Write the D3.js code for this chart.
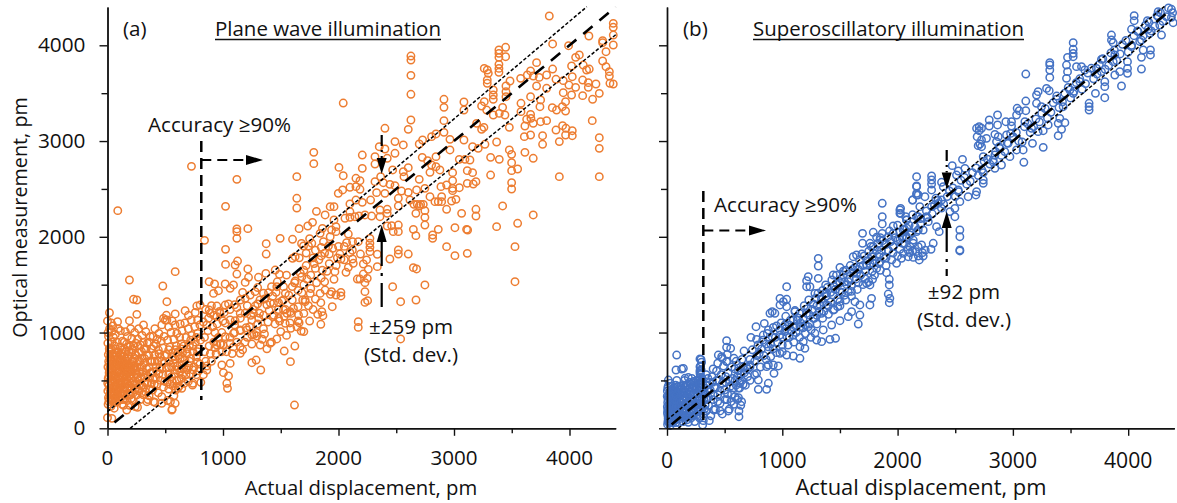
<!DOCTYPE html>
<html>
<head>
<meta charset="utf-8">
<style>
  html, body { margin: 0; padding: 0; background: #fff; }
  svg { display: block; }
  text { font-family: "Open Sans", "Noto Sans", sans-serif; fill: #111; }
</style>
<script src="https://cdnjs.cloudflare.com/ajax/libs/d3/7.8.5/d3.min.js"></script>
</head>
<body>
<svg id="chart" width="1177" height="503"></svg>
<script>
var tickMajor = [0, 1000, 2000, 3000, 4000];
var tickMinor = [500, 1500, 2500, 3500];
var axisMax = 4400;

// (a) plane wave, actual vs optical in pm
var planeUpper = [[3825,4306],[4379,4229],[4379,4188],[4379,4107],[4287,4048],[4379,4003],[3854,4014],[3992,3996],[4168,4097],[4287,4027],
  [3447,3979],[3389,3951],[3389,3916],[3447,3881],[3389,3874],[4316,3933],[4085,3899],[4053,3874],[2627,3888],[2627,3846],[2627,3686],[2627,3488],
  [2041,3397],[4287,3836],[3715,3819],[3389,3801],[3389,3759],[3389,3718],[3262,3759],[3288,3742],[3297,3707],[4316,3777],[4345,3725],[4345,3679],
  [4350,3603],[4379,3596],[4119,3794],[4148,3742],[4171,3752],[4018,3784],[3854,3752],[3663,3732],[3635,3690],[3577,3655],[3686,3679],[3738,3665],
  [3802,3690],[3883,3645],[3946,3631],[4024,3672],[4114,3637],[4163,3610],[4229,3596],[3485,3627],[3288,3638],[3288,3603],[3450,3575],[3715,3575],
  [3802,3551],[3995,3585],[4053,3561],[4163,3561],[3946,3505],[4018,3481],[4114,3474],[4258,3498],[4200,3436],[3340,3533],[3340,3481],[3340,3436],
  [3450,3516],[3450,3463],[3663,3463],[3750,3429],[3966,3411],[3580,3394],[2913,3436],[2913,3352],[3086,3408],[3086,3324],[3262,3411],[3239,3366],
  [3283,3324],[3421,3352],[3744,3359],[3851,3349],[3888,3324],[3938,3359],[3966,3314],[3340,3272],[3392,3289],[3441,3272],[3580,3307],[3663,3279],
  [3629,3227],[3666,3237],[3614,3157],[3686,3185],[3750,3202],[3802,3213],[4197,3213],[2913,3213],[2627,3220],[2604,3122],[2402,3133],[3196,3185],
  [3259,3143],[3239,3122],[3479,3143],[3883,3115],[3940,3161],[3969,3133],[4024,3108],[3966,3063],[4024,3056],[2913,3091],[2844,3074],[2806,3046]];
var planeMiddle = [[3086,3011],[2965,3018],[2728,3011],[2699,2969],[2489,2994],[2561,2959],[2353,2941],[2402,2917],[3609,3046],[3663,3063],[3767,3056],
  [3767,2966],[3912,2994],[4258,3035],[4258,2924],[3161,2941],[3268,2966],[3369,2990],[2965,2907],[3210,2924],[3479,2907],[3499,2861],[3614,2882],
  [2206,2854],[2316,2837],[2489,2872],[2422,2820],[2316,2760],[2725,2830],[2772,2795],[2844,2837],[3046,2809],[3095,2809],[3138,2802],[3317,2830],
  [3392,2809],[3686,2820],[3499,2774],[2004,2725],[2206,2715],[2604,2722],[2469,2698],[2806,2750],[2844,2732],[2878,2698],[3499,2691],[3551,2708],
  [2041,2638],[2561,2680],[2365,2628],[2567,2628],[2699,2600],[2792,2673],[2988,2670],[3115,2691],[3161,2670],[3317,2645],[3912,2628],[4258,2628],
  [2151,2611],[2186,2586],[2316,2576],[2388,2565],[2445,2548],[2489,2534],[2988,2586],[3190,2576],[3115,2558],[3167,2551],[3499,2565],[3499,2499],
  [2099,2517],[2151,2524],[2186,2496],[2036,2489],[1998,2454],[2330,2461],[2402,2454],[2546,2478],[2604,2464],[2676,2489],[2748,2506],[2887,2524],
  [2936,2541],[2988,2506],[3046,2513],[2988,2482],[2893,2419],[2518,2402],[2278,2384],[2151,2384],[2099,2343],[2206,2360],[1961,2315],[2518,2322],
  [2619,2384],[2792,2419],[2653,2339],[2682,2339],[2711,2339],[2734,2339],[2699,2322],[2835,2367],[2864,2367],[2893,2367],[2979,2374],[3017,2391],
  [2936,2287],[2748,2273],[2670,2245],[2748,2203],[3066,2245],[3190,2287],[3190,2217],[3421,2322],[3686,2228],[3551,2141],[3369,2106],[3008,2095],
  [3109,2078],[3118,2071],[2864,2078],[2748,2123],[2648,2078],[2670,2012],[2815,2019],[2815,1984],[2518,2123],[2518,2054],[2460,2116],[2422,2113],
  [2474,2054],[2518,1862],[2936,1897],[3528,1897],[2272,1984],[2272,1932],[2272,1890],[2422,2287],[2422,2245],[2359,2280],[2359,2210],[2287,2217],
  [2229,2228],[2177,2217],[2142,2210],[2099,2263],[2099,2203],[2056,2193],[1961,2176],[1978,2106],[1940,2071],[1978,2054],[2085,2029],[2070,1939],
  [2122,1949],[2171,1949]];
var planeLower = [[2012,1820],[2099,1834],[2122,1768],[2021,1768],[1969,1636],[2065,1629],[2128,1723],[2085,1681],[2272,1845],[2336,1817],[2243,1758],
  [2215,1716],[2336,1688],[2258,1660],[2215,1611],[2163,1559],[2186,1559],[2249,1566],[1961,1556],[2229,1521],[2445,1768],[2518,1820],[2604,1820],
  [3008,1803],[3115,1827],[2648,1678],[2676,1664],[2469,1479],[2748,1497],[3528,1531],[1940,1427],[2021,1420],[2021,1382],[1978,1392],[2229,1427],
  [2229,1315],[2252,1333],[2538,1322],[2671,1340],[1946,1270],[2171,1114],[2171,1054],[2538,933]];
var planeLeft = [[89,2273],[727,2736],[1120,2600],[1022,2318],[1120,2082],[1120,2054],[1120,1984],[1215,2085],[840,1963],[1374,1928],[1495,1984],[1602,1974],
  [1022,1869],[1639,2628],[1639,2402],[1639,2301],[1786,2882],[1786,2764],[1809,2266],[1884,2228],[1775,2151],[1734,2113],[1659,2085],[1861,2088],
  [1928,2315],[1697,1904],[1740,1904],[1769,1932],[1850,1890],[1913,1904],[1928,2001],[1841,2036],[586,1636],[190,1549],[479,1486],[225,1347],[254,1340],
  [514,1322],[1022,1712],[1105,1705],[1126,1747],[1120,1611],[1215,1664],[1221,1577],[1374,1820],[1307,1577],[1371,1618],[1452,1653],[1489,1608],
  [1625,1792],[1602,1775],[880,1531],[927,1507],[918,1409],[961,1437],[1019,1507],[1062,1462],[1091,1497],[1192,1524],[1278,1427],[1235,1392],[1192,1357],
  [1394,1416],[1466,1479],[1524,1479],[1625,1538],[1683,1583],[1726,1559],[1683,1416],[1711,1322],[1755,1409],[1841,1409],[1884,1444],[1847,1312],
  [1711,1340],[1856,1218],[1865,1176],[1847,1086],[773,1277],[802,1287],[672,1228],[586,1194],[485,1148],[514,1131],[312,1079],[254,1190],[190,1124],
  [87,1114],[17,1207],[0,1121],[880,1235],[947,1277],[1019,1287],[1048,1298],[889,1201],[976,1201],[1149,1201],[1192,1201],[1278,1277],[1264,1201],
  [1316,1201],[1437,1305],[1481,1312],[1524,1340],[1524,1235],[1553,1201],[1610,1253],[1582,1218],[1431,1166],[1481,1148],[1539,1096],[1587,1044],
  [1654,1183],[1659,1103],[1677,1016],[947,1166],[1062,1131],[1105,1124],[1149,1027],[1206,1027],[1091,992],[1019,957],[976,880],[1062,887],[1149,853],
  [1250,974],[1293,964],[1359,985],[1466,933],[1322,870],[1408,887],[1149,783],[1250,685],[1287,713],[1327,609],[1530,807],[1622,859],[1584,696],[1619,243],
  [990,661],[1062,678],[1004,581],[1048,546],[1033,470],[1039,417],[947,870],[860,609],[808,480],[736,452],[643,417],[557,191],[586,261],[470,261],
  [398,278],[341,278],[240,226],[38,104],[0,111],[167,191]];
var planeBand = [[830,560],[860,650],[900,700],[940,780],[990,800],[840,800],[880,860],[920,900],[960,950],[1000,870],[840,950],[870,1020],[910,1060],[950,1090],
  [990,1000],[830,1110],[875,1150],[920,1180],[970,1220],[1020,1100],[850,1240],[900,1280],[1010,1210],[1080,780],[1120,900],[1170,820],[1210,950],[1250,880],
  [1290,1000],[1340,930],[1380,830],[1420,900],[1100,1080],[1150,1150],[1200,1050],[1250,1130],[1300,1090],[1350,1180],[1400,1230],[1450,1090],[1500,1010],
  [1550,970],[1100,1290],[1150,1340],[1210,1280],[1260,1240],[1320,1340],[1380,1290],[1430,1380],[1480,1240],[1530,1170],[1580,1100],[1640,1060],[1700,1010],
  [1750,1120],[1300,1470],[1350,1410],[1420,1480],[1470,1530],[1540,1410],[1600,1340],[1650,1270],[1700,1200],[1780,1240],[1820,1190],[1550,1600],[1600,1480],
  [1650,1440],[1700,1500],[1760,1460],[1810,1520],[1880,1530],[1930,1400],[1700,1650],[1760,1600],[1800,1670],[1860,1650],[1920,1720],[1660,1780],[1720,1830],
  [1780,1780],[1830,1760],[1880,1830],[1950,1880],[1800,1860],[1870,1950],[1680,1930],[1750,1980],
  [850,700],[890,780],[930,840],[980,880],[1030,800],[1060,950],[1100,1000],[1090,850],[1150,1020],[1190,900],[1230,1060],[1270,980],[1310,1150],[1350,1040],[1390,1110],[1440,1180],
  [1490,1120],[1540,1240],[1590,1200],[1650,1120],[1690,1340],[1740,1280],[1800,1350],[1850,1570],[1900,1640],[1980,1700],[2050,1760],[860,1080],[930,1000],[1000,1120],[1060,1240],
  [1120,1260],[1170,1420],[1240,1180],[1300,1300],[1360,1350],[1410,1310],[1460,1420],[1510,1330],[1570,1390],[1620,1520],[1670,1620],[1720,1700],[1790,1720],[1850,1800],[1920,1820],
  [1990,1780],[2000,1900],[2050,1900],[2120,1860],[2190,1820]];
var planeCluster = [[5,250],[8,320],[3,390],[12,450],[6,520],[14,580],[4,640],[10,700],[7,770],[15,830],[3,890],[9,960],[18,1040],[12,280],[20,360],[2,470],[18,610],[22,740],[5,1000],
  [30,230],[35,300],[28,350],[42,410],[33,470],[46,520],[27,560],[38,620],[48,670],[31,720],[44,780],[26,840],[40,900],[52,950],[36,1010],[47,1070],[33,1100],
  [58,210],[63,270],[72,330],[55,380],[80,430],[66,480],[88,530],[60,570],[75,620],[85,670],[57,710],[70,760],[90,800],[62,860],[82,900],[68,980],[92,1040],[85,360],[78,280],
  [98,290],[110,340],[95,400],[122,450],[105,500],[128,550],[100,600],[115,640],[125,690],[96,740],[118,790],[108,850],[130,910],[112,1020],[127,250],[104,450],[120,370],
  [140,240],[155,310],[135,380],[170,420],[148,470],[165,520],[138,570],[175,610],[150,660],[168,700],[142,750],[160,800],[178,850],[145,900],[172,960],[155,1010],[135,620],[160,560],[150,430],
  [190,240],[215,290],[200,350],[235,400],[188,440],[225,490],[205,530],[245,570],[195,610],[230,650],[210,700],[185,750],[240,770],[220,820],[195,860],[245,890],[210,940],[235,1000],[200,1040],[190,660],[228,540],[215,590],
  [260,220],[285,300],[310,350],[265,410],[330,380],[295,450],[345,470],[270,500],[320,530],[255,560],[305,590],[340,620],[280,640],[320,680],[260,710],[300,730],[340,760],[270,790],[315,830],[285,870],[345,890],[262,930],[300,970],[332,1010],[270,1040],[350,300],
  [360,340],[410,270],[390,400],[440,370],[470,330],[380,470],[430,460],[485,430],[365,530],[415,520],[460,500],[495,490],[395,590],[445,570],[480,560],[360,640],[420,640],[470,620],[385,700],[435,700],[490,680],[360,760],[410,770],[455,740],[495,760],[385,830],[440,820],[480,840],[360,900],[420,880],[465,910],[395,960],[445,990],[490,960],[410,1040],[470,1080],[500,1130],
  [520,290],[545,280],[560,200],[575,340],[610,420],[530,410],[590,400],[620,440],[515,480],[560,490],[600,500],[640,520],[530,560],[580,570],[625,590],[510,630],[555,640],[605,650],[645,660],[535,700],[585,720],[630,730],[515,770],[565,790],[610,800],[650,790],[540,850],[595,860],[640,880],[520,920],[575,930],[625,950],[550,1000],[600,990],[645,1020],[530,1060],[585,1080],[630,1090],[560,1120],[510,1180],
  [665,470],[700,490],[740,470],[770,560],[680,560],[720,570],[790,600],[660,630],[705,650],[750,640],[800,670],[670,710],[720,730],[770,750],[690,780],[740,800],[790,830],[660,860],[710,870],[760,900],[805,920],[680,950],[730,970],[780,990],[700,1040],[755,1060],[800,1080],[670,1100],[725,1130],[780,1130],[760,1210],[700,1180]];
var planeDense = [[16,305],[24,345],[18,415],[25,490],[13,545],[22,630],[15,675],[24,725],[17,800],
  [45,285],[52,340],[40,375],[56,440],[44,495],[53,545],[42,600],[58,640],[45,690],[55,745],[40,815],
  [74,305],[68,370],[84,395],[70,445],[78,510],[72,550],[90,590],[68,655],[84,715],[76,790],[92,690],
  [102,320],[112,380],[100,425],[116,480],[108,535],[120,585],[103,650],[116,705],[110,760],[125,820],
  [132,300],[146,345],[138,410],[152,495],[133,530],[147,600],[158,635],[136,680],[155,725],[147,830],
  [170,290],[182,360],[175,465],[165,480],[185,545],[172,590],[184,640],[168,670],[178,730],[185,800],[165,880],
  [205,310],[220,365],[212,420],[198,475],[235,455],[208,565],[222,620],[240,610],[205,650],[225,700],[240,730],[210,790],[228,860],
  [255,350],[275,390],[295,370],[250,460],[280,460],[310,430],[260,530],[290,540],[325,480],[275,590],[300,640],[255,640],[335,560],[280,700],[320,730],[250,760],[295,800],[335,830],[265,860],[310,900],
  [365,410],[405,460],[375,580],[425,600],[395,510],[455,640],[410,700],[370,700],[445,780],[400,860],[370,960],[430,930],[470,700],
  [540,460],[570,440],[620,510],[555,540],[650,560],[600,610],[530,640],[640,620],[570,680],[610,760],[560,740],[650,740],[530,820],[590,820],[640,830],
  [690,610],[740,610],[710,700],[780,690],[690,830],[740,860],[780,800],[720,920],[770,950]];

// (b) superoscillatory
var superUpper = [[4375,4376],[4260,4351],[4052,4309],[4052,4257],[4167,4257],[4260,4299],[4375,4292],[4390,4236],[4274,4212],[4173,4167],[4086,4142],[4029,4167],
  [4289,4107],[4188,4125],[3855,4107],[3855,4055],[3870,4027],[4115,4055],[4029,3986],[4130,3951],[4193,3951],[4193,3899],[4115,3874],[3523,4027],[3523,3958],
  [3523,3916],[3523,3881],[3474,3874],[3768,3853],[3884,3899],[3994,3829],[3994,3759],[3994,3707],[4115,3752],[3870,3829],[3320,3819],[3320,3794],[3320,3742],
  [3320,3665],[3112,3700],[3465,3794],[3474,3725],[3465,3655],[3552,3777],[3595,3777],[3624,3742],[3581,3620],[3725,3759],[3768,3725],[3884,3690],[3927,3725],
  [3797,3620],[3797,3568],[3716,3498],[3797,3453],[3942,3575],[3292,3550],[3315,3526],[3219,3516],[3205,3481],[3112,3418],[3205,3394],[3378,3436],[3494,3533],
  [3523,3498],[3661,3394],[3661,3359],[3661,3324],[3037,3342],[3055,3317],[3112,3317],[3248,3359],[3436,3359],[2867,3272],[3032,3272],[2795,3220],[2867,3168],
  [2939,3202],[2988,3202],[2988,3157],[3104,3202],[2708,3150],[2685,3133],[2728,3133],[2708,3108],[2795,3157],[2690,3046],[2844,3070],[2873,3046],[2945,3063],
  [2771,3028],[2728,3011],[2699,2952],[2728,2941],[2714,2969],[2858,2994],[3003,3046],[3162,3133],[3263,3108],[3407,3237],[3451,3192],[3393,3185],[3422,3122],
  [3393,3056],[3306,3168],[3219,3098],[3263,2934],[3170,2976],[3089,2907],[3095,2778],[3032,2907],[2959,2976],[2887,2924],[2844,2854],[2974,2837],[2743,2837]];
var superMiddle = [[2563,2809],[2474,2743],[2584,2715],[2526,2687],[2511,2645],[2829,2802],[2901,2750],[2844,2715],[2743,2670],[2743,2593],[2743,2558],[2165,2628],
  [2165,2531],[2165,2454],[2130,2384],[2295,2635],[2295,2593],[2295,2551],[2381,2569],[2295,2489],[2396,2524],[2526,2489],[2612,2419],[2685,2471],[2679,2437],
  [2237,2419],[2179,2437],[2332,2402],[2381,2384],[2540,2367],[2497,2297],[2026,2297],[2026,2245],[2193,2315],[2295,2315],[2352,2349],[2454,2263],[2497,2210],
  [2179,2210],[2078,2176],[2251,2210],[2266,2158],[2338,2106],[2361,2054],[2222,2071],[2165,2054],[2107,2019],[2540,2071],[2540,2001],[2540,1862],[2309,1932],
  [2208,1915],[2078,1984],[2136,1966],[2043,1932],[2179,1897],[2107,1897],[2540,1852],[2188,1758],[2136,1785],[2222,1799],[2092,1792],[2034,1775],[2216,1834],
  [2107,1834],[2159,1845],[2049,1827],[1867,2350],[1867,2210],[1867,2134],[2020,2280],[2020,2245],[2130,2384],[2165,2437],[2165,2524],[1962,2113],[1696,2036],
  [1696,1932],[1789,2047],[1867,2036],[1760,1932],[1818,1995],[1847,1967],[1962,2036],[2020,1966],[2078,2001],[2136,1932],[2165,2210],[1962,1897],[2078,2176],
  [2179,2071],[1789,1897],[2049,2071],[1919,2001]];
var superLower = [[1312,1775],[1312,1695],[1500,1681],[1615,1792],[1644,1810],[1442,1601],[1225,1583],[1211,1542],[1312,1566],[1211,1479],[1240,1479],[1376,1497],
  [1283,1409],[1038,1479],[980,1357],[1038,1347],[980,1288],[1038,1270],[1009,1322],[913,1218],[893,1201],[936,1201],[1110,1218],[844,1096],[772,1061],[879,1027],
  [728,950],[517,915],[517,846],[552,835],[445,765],[474,748],[523,772],[581,731],[517,696],[668,807],[777,929],[835,974],[922,1054],[1023,1079],[1095,1131],[980,974],
  [84,765],[78,609],[127,619],[142,626],[156,522],[286,724],[286,644],[286,602],[286,574],[12,504],[1298,922],[1341,905],[1413,929],[1462,940],[1248,950],[1196,835],
  [1153,731],[1095,755],[1038,765],[980,783],[965,651],[922,661],[928,574],[879,661],[879,470],[864,407],[792,407],[792,504],[777,574],[864,644],[720,661],[633,470],
  [647,278],[624,181],[624,121],[532,181],[460,181],[367,80],[309,35],[408,191],[185,62],[1659,1089],[1673,1183],[1673,1288],[1601,1218],[1760,1288],[1774,1357],
  [1731,1514],[1760,1497],[1783,1556],[1904,1625],[1928,1556],[1928,1497],[1919,1402],[1933,1357],[1928,1312],[1500,1124],[1572,1166],[1428,1079],[1355,1027],[1283,992],
  [1182,905],[1153,853],[1384,1288],[1442,1235],[1500,1322],[1572,1427],[1630,1322],[1500,1427],[1327,1288],[1341,1201],[1269,1148],[1225,1061],[1153,1061],[1095,974],
  [1384,1409],[1471,1514],[1529,1601],[1572,1531],[1644,1618],[1673,1688],[1789,1723],[1847,1740],[1991,1723],[1818,1670],[1731,1705]];
var superBand = [[720,640],[760,700],[800,780],[840,760],[880,850],[920,830],[960,900],[1000,950],[1040,960],[1080,1020],[1120,1000],[1160,1100],[1200,1080],[1240,1180],[1280,1150],
  [1320,1220],[1360,1310],[1400,1280],[1440,1390],[1480,1350],[1520,1420],[1560,1500],[1600,1490],[1640,1560],[1680,1600],[1720,1640],[1760,1720],[1800,1750],[1840,1820],[1880,1790],
  [1920,1860],[1960,1900],[2000,1960],[2040,2000],[2080,2090],[2120,2040],[740,820],[790,870],[830,920],[870,990],[910,960],[950,1070],[990,1100],[1030,1170],[1070,1130],[1110,1230],
  [1150,1200],[1190,1280],[1230,1340],[1270,1300],[1310,1410],[1350,1440],[1390,1470],[1430,1550],[1470,1600],[1510,1560],[1550,1650],[1590,1700],[1630,1680],[1670,1760],[1710,1800],
  [1750,1850],[1790,1830],[1830,1930],[1870,1960],[760,560],[810,640],[860,720],[900,750],[950,790],[1000,800],[1050,870],[1100,900],[1150,950],[1200,990],[1250,1030],[1300,1090],
  [1350,1150],[1400,1190],[1450,1240],[1500,1280],[1550,1340],[1600,1380],[1650,1450],[1700,1500],[1750,1530],[1800,1600],[1850,1650],[1900,1700],[1950,1760],[2000,1800],
  [2150,2110],[2200,2190],[2250,2270],[2300,2240],[2350,2380],[2400,2340],[2450,2480],[2500,2420],[2550,2590],[2600,2550],[2650,2670],[2700,2640],[2750,2790],[2800,2760],[2850,2890],
  [2900,2850],[2950,2980],[3000,3040],[3050,3000],[3100,3150],[3150,3090],[3200,3230],[3250,3290],[3300,3240],[3350,3400],[3400,3350],[3450,3500],[3500,3450],[3550,3610],[3600,3540],
  [3650,3710],[3700,3650],[3750,3800],[3800,3750],[3850,3920],[3900,3840],[3950,4010],[4000,3930],[4050,4100],[4100,4040],[4150,4210],[4200,4150],[4250,4310],[4300,4250],[4350,4390],
  [780,760],[820,830],[860,880],[900,880],[940,950],[980,1030],[1020,1010],[1060,1080],[1100,1050],[1140,1150],[1180,1140],[1220,1250],[1260,1240],[1300,1280],[1340,1350],[1380,1380],
  [1420,1420],[1460,1450],[1500,1520],[1540,1530],[1580,1560],[1620,1620],[1660,1660],[1700,1700],[1740,1750],[1780,1790],[1820,1860],[1860,1860],[1900,1920],[1940,1950],[1980,1990],
  [2020,2050],[2060,2080],[2100,2120],[1000,870],[1060,950],[1120,1060],[1180,1050],[1240,1090],[1300,1180],[1360,1220],[1420,1320],[1480,1270],[1540,1390],[1600,1430],[1660,1520],
  [1720,1560],[1780,1640],[1840,1720],[1900,1780],[1960,1830],[2020,1870],[2060,1930],[2090,1860],[2130,1850],[2180,1800],[2240,1860],[2290,1870],[1030,1040],[1130,1130],[1210,1200],
  [1290,1360],[1370,1410],[1450,1480],[1530,1640],[1610,1660],[1690,1820],[1770,1900],[1850,1990],[1930,2060],[2000,2120],[2070,2210],[2130,2230],
  [2200,2130],[2260,2200],[2320,2330],[2380,2300],[2430,2420],[2480,2510],[2530,2470],[2580,2620],[2630,2580],[2680,2720],[2730,2700],[2780,2810],[2830,2780],[2880,2940],[2930,2890],
  [2980,3080],[3030,3090],[3080,2990],[3130,3180],[3180,3150],[3230,3200],[3280,3340],[3330,3300],[3380,3470],[3430,3410],[3480,3560],[3530,3520],[3580,3650],[3630,3600],[3680,3760],
  [3730,3700],[3780,3860],[3830,3790],[3880,3950],[3930,3910],[3980,4050],[4030,4000],[4080,4150],[4130,4100],[4180,4240],[4230,4200],[4280,4340],[4330,4300],[4385,4340]];
var superCluster = [[5,40],[10,100],[4,160],[14,210],[6,270],[12,330],[3,390],[16,60],[8,130],[18,250],[20,180],[22,310],[10,440],[28,30],[35,90],[30,150],[40,200],[32,260],[44,320],[28,380],
  [38,440],[48,60],[50,130],[46,230],[52,280],[56,170],[60,350],[54,400],[66,90],[70,150],[62,220],[74,270],[68,320],[80,380],[76,60],[84,200],[90,120],[92,250],[95,330],[88,430],[100,170],
  [105,60],[108,280],[112,370],[118,220],[125,120],[130,310],[120,440],[135,180],[140,70],[145,380],[150,250],[155,130],[160,320],[165,450],[170,200],[175,90],[180,400],[185,280],[190,160],
  [195,480],[200,350],[205,230],[210,110],[215,420],[220,300],[225,180],[230,490],[235,370],[240,70],[245,250],[250,440],[255,140],[260,330],[265,220],[270,500],[275,400],[280,110],[285,300],
  [290,190],[295,460],[300,250],[305,520],[310,380],[315,150],[320,300],[322,420],[290,560],[296,610],[285,500],[315,80],[325,200],[340,180],[360,240],[380,130],[400,300],[420,200],[440,350],
  [460,260],[480,150],[500,400],[520,300],[540,200],[560,350],[580,250],[600,450],[620,320],[640,240],[350,400],[370,480],[390,540],[410,430],[430,600],[450,500],[470,560],[490,650],[510,480],
  [530,580],[550,440],[570,520],[590,620],[610,540],[630,420],[650,500],[670,580],[690,640],[340,560],[400,620],[440,680],[480,730],[520,700],[560,640],[600,700],[650,720],[700,540],[680,450],[720,500]];
var superDense = [[8,70],[18,120],[6,190],[16,235],[9,300],[19,355],[7,420],[12,75],[22,145],[3,225],[2,335],
  [30,60],[38,120],[27,180],[42,170],[33,230],[47,260],[29,300],[41,350],[35,400],[46,380],[28,470],
  [58,80],[64,130],[52,190],[68,200],[58,250],[72,300],[55,320],[66,370],[60,420],[74,450],
  [82,90],[88,160],[78,230],[94,210],[84,290],[92,380],[78,340],[96,440],[85,500],
  [110,100],[116,150],[104,230],[122,270],[110,330],[124,350],[102,400],[118,410],
  [135,130],[146,160],[132,230],[148,210],[138,290],[150,340],[130,390],[145,450],[152,500],
  [165,110],[176,150],[162,240],[178,260],[168,300],[180,350],[160,380],[172,440],
  [195,130],[206,180],[192,240],[212,280],[198,310],[210,380],[190,420],[205,460],[185,530],
  [225,130],[236,170],[222,240],[240,300],[228,350],[242,400],[225,430],[238,470],[215,520],
  [255,200],[268,170],[258,260],[272,300],[256,360],[270,360],[260,420],[275,470],[255,500],
  [290,130],[300,200],[285,260],[305,320],[290,360],[298,420],[288,460],[300,500],[286,530],[292,650],[300,690],[295,720],[288,590],
  [330,240],[345,300],[335,360],[360,320],[350,450],[375,400],[355,520],[400,350],[420,420],[395,480],[440,280],[430,500],[460,390],[480,470],[505,300],[525,360],[510,540],[555,280],
  [545,500],[575,420],[590,330],[590,500],[620,420],[610,300],[630,500],[620,600],[640,560],[660,460],[660,640],[700,620],[720,720]];

var planePoints = planeCluster.concat(planeDense, planeLeft, planeBand, planeLower, planeMiddle, planeUpper);
var superPoints = superCluster.concat(superDense, superLower, superBand, superMiddle, superUpper);

// fit and +/- std dev lines, ends
var planeFit = [[60,60],[4400,4400]];
var planeHigh = [[0,174],[4150,4403]];
var planeLow = [[196,0],[4400,4110]];
var superFit = [[40,40],[4380,4380]];
var superHigh = [[0,87],[4318,4410]];
var superLow = [[98,0],[4400,4290]];

var panels = [
  {
    points: planePoints, color: '#ed7d31', left: 107.5, right: 615.7,
    fit: planeFit, high: planeHigh, low: planeLow, showYLabels: true,
    tag: '(a)', tagX: 123, title: 'Plane wave illumination', titleX: 215, titleW: 226,
    cutoff: 812, cutoffTop: 141, cutoffBottom: 400, arrowY: 160, arrowEnd: 263,
    accX: 148, accY: 131.5, devX: 381.7, devTop: [135, 158, 174], devBottom: [225, 242, 311],
    dev: '\u00b1259 pm', devTextX: 411, devY1: 334, devY2: 362,
    xLabelX: 361, xFont: 20.3, tickFont: 20.6, tickY: 465
  },
  {
    points: superPoints, color: '#4472c4', left: 667, right: 1174.3,
    fit: superFit, high: superHigh, low: superLow, showYLabels: false,
    tag: '(b)', tagX: 683, title: 'Superoscillatory illumination', titleX: 753, titleW: 271,
    cutoff: 315, cutoffTop: 191, cutoffBottom: 420, arrowY: 230.5, arrowEnd: 766,
    accX: 714, accY: 211.5, devX: 946.7, devTop: [150, 172.5, 189], devBottom: [211.5, 228, 276],
    dev: '\u00b192 pm', devTextX: 964, devY1: 299, devY2: 327,
    xLabelX: 921, xFont: 21.9, tickFont: 21.2, tickY: 468
  }
];

var svg = d3.select('#chart');
var y = d3.scaleLinear().domain([0, axisMax]).range([428.3, 7]);
var lineInk = '#111';
var noteFont = 20.6;

function arrowHead(g, tip, base, side, horizontal) {
  var pts = horizontal
    ? [[tip, side], [base, side - 5], [base, side + 5]]
    : [[side, tip], [side - 5, base], [side + 5, base]];
  g.append('polygon').attr('points', pts.join(' ')).attr('fill', '#000');
}

function drawAxes(g, x, p) {
  g.append('g').attr('transform', 'translate(0,' + y(0) + ')')
    .call(d3.axisBottom(x).tickValues(tickMajor).tickSize(7.5).tickSizeOuter(0).tickFormat(''));
  g.append('g').attr('transform', 'translate(0,' + y(0) + ')')
    .call(d3.axisBottom(x).tickValues(tickMinor).tickSize(5).tickSizeOuter(0).tickFormat(''));
  g.append('g').attr('transform', 'translate(' + p.left + ',0)')
    .call(d3.axisLeft(y).tickValues(tickMajor).tickSize(8).tickSizeOuter(0).tickFormat(''));
  g.append('g').attr('transform', 'translate(' + p.left + ',0)')
    .call(d3.axisLeft(y).tickValues(tickMinor).tickSize(6).tickSizeOuter(0).tickFormat(''));
  g.selectAll('.domain, .tick line').attr('stroke', lineInk).attr('stroke-width', 1.4);

  g.selectAll('.x-tick').data(tickMajor).enter().append('text')
    .attr('class', 'x-tick').attr('x', function(d) { return x(d); }).attr('y', p.tickY)
    .attr('text-anchor', 'middle').attr('font-size', p.tickFont).text(function(d) { return d; });
  if (p.showYLabels) {
    g.selectAll('.y-tick').data(tickMajor).enter().append('text')
      .attr('class', 'y-tick').attr('x', 85.5).attr('y', function(d) { return y(d) + 7; })
      .attr('text-anchor', 'end').attr('font-size', 20.8).text(function(d) { return d; });
    g.append('text').attr('transform', 'translate(27,217.5) rotate(-90)')
      .attr('text-anchor', 'middle').attr('font-size', 19.8).text('Optical measurement, pm');
  }
  g.append('text').attr('x', p.xLabelX).attr('y', 495)
    .attr('text-anchor', 'middle').attr('font-size', p.xFont).text('Actual displacement, pm');
}

function drawFits(g, x, p) {
  var line = d3.line().x(function(d) { return x(d[0]); }).y(function(d) { return y(d[1]); });
  g.append('path').attr('d', line(p.fit)).attr('fill', 'none').attr('stroke', '#000')
    .attr('stroke-width', 2.6).attr('stroke-dasharray', '12,9');
  [p.high, p.low].forEach(function(ends) {
    g.append('path').attr('d', line(ends)).attr('fill', 'none').attr('stroke', '#000')
      .attr('stroke-width', 1.5).attr('stroke-dasharray', '3.5,2');
  });
}

function drawNotes(g, x, p) {
  var cx = x(p.cutoff);
  g.append('line').attr('x1', cx).attr('x2', cx).attr('y1', p.cutoffTop).attr('y2', p.cutoffBottom)
    .attr('stroke', '#000').attr('stroke-width', 2.5).attr('stroke-dasharray', '11,6');
  g.append('line').attr('x1', cx).attr('x2', p.arrowEnd - 15).attr('y1', p.arrowY).attr('y2', p.arrowY)
    .attr('stroke', '#000').attr('stroke-width', 2.2).attr('stroke-dasharray', '10,6');
  arrowHead(g, p.arrowEnd, p.arrowEnd - 17, p.arrowY, true);

  g.append('line').attr('x1', p.devX).attr('x2', p.devX).attr('y1', p.devTop[0]).attr('y2', p.devTop[1])
    .attr('stroke', '#000').attr('stroke-width', 2.2).attr('stroke-dasharray', '11,4,2,4');
  arrowHead(g, p.devTop[2], p.devTop[1], p.devX, false);
  arrowHead(g, p.devBottom[0], p.devBottom[1], p.devX, false);
  g.append('line').attr('x1', p.devX).attr('x2', p.devX).attr('y1', p.devBottom[1]).attr('y2', p.devBottom[2])
    .attr('stroke', '#000').attr('stroke-width', 2.2).attr('stroke-dasharray', '24,7,3,7');

  g.append('text').attr('x', p.tagX).attr('y', 36).attr('font-size', noteFont).text(p.tag);
  g.append('text').attr('x', p.titleX).attr('y', 36).attr('font-size', noteFont)
    .attr('textLength', p.titleW).attr('lengthAdjust', 'spacingAndGlyphs').text(p.title);
  g.append('line').attr('x1', p.titleX).attr('x2', p.titleX + p.titleW).attr('y1', 39.5).attr('y2', 39.5)
    .attr('stroke', '#111').attr('stroke-width', 1.4);
  g.append('text').attr('x', p.accX).attr('y', p.accY).attr('font-size', noteFont).text('Accuracy \u226590%');
  g.append('text').attr('x', p.devTextX).attr('y', p.devY1).attr('text-anchor', 'middle').attr('font-size', noteFont).text(p.dev);
  g.append('text').attr('x', p.devTextX).attr('y', p.devY2).attr('text-anchor', 'middle').attr('font-size', noteFont).text('(Std. dev.)');
}

panels.forEach(function(p) {
  var x = d3.scaleLinear().domain([0, axisMax]).range([p.left, p.right]);
  var g = svg.append('g');
  g.append('g').selectAll('circle').data(p.points).enter().append('circle')
    .attr('cx', function(d) { return x(d[0]); })
    .attr('cy', function(d) { return y(d[1]); })
    .attr('r', 3.7)
    .attr('fill', 'none')
    .attr('stroke', p.color)
    .attr('stroke-width', 1.5);
  drawAxes(g, x, p);
  drawFits(g, x, p);
  drawNotes(g, x, p);
});
</script>
</body>
</html>
